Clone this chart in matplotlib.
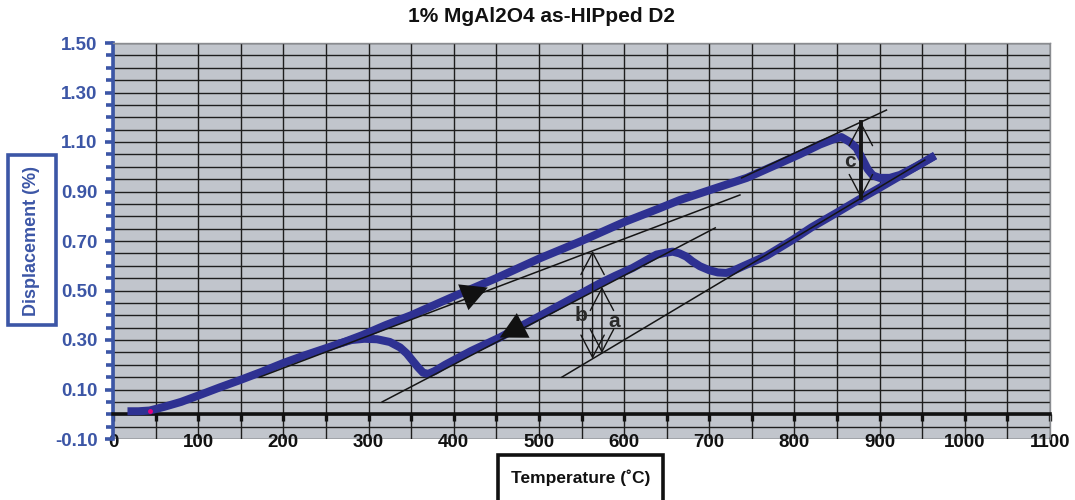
import numpy as np
import matplotlib
matplotlib.use("Agg")
import matplotlib.pyplot as plt
from matplotlib.patches import FancyArrowPatch, Rectangle
from matplotlib.ticker import MultipleLocator, FixedLocator, FormatStrFormatter

# ---------------- data ----------------
title = "1% MgAl2O4 as-HIPped D2"
x_label = "Temperature (˚C)"
y_label = "Displacement (%)"
y_ticks = [-0.10, 0.10, 0.30, 0.50, 0.70, 0.90, 1.10, 1.30, 1.50]

# heating branch
T_heat = [17, 30, 43, 60, 80, 102, 125, 149, 175, 200, 225, 251, 270, 293, 320,
          350, 396, 450, 501, 550, 599, 640, 665, 700, 744, 780, 806, 830, 845,
          855, 865, 873, 880, 886, 892, 900, 912, 924, 945, 965]
D_heat = [0.012, 0.012, 0.015, 0.03, 0.05, 0.078, 0.108, 0.138, 0.172, 0.207,
          0.238, 0.268, 0.29, 0.32, 0.36, 0.40, 0.47, 0.55, 0.63, 0.70, 0.775,
          0.83, 0.865, 0.905, 0.955, 1.01, 1.05, 1.09, 1.11, 1.12, 1.10, 1.075,
          1.03, 0.99, 0.965, 0.955, 0.955, 0.967, 1.005, 1.045]

# cooling branch
T_cool = [965, 940, 920, 900, 877, 850, 820, 798, 767, 739, 727, 720, 710, 700,
          689, 680, 673, 665, 657, 648, 638, 625, 610, 590, 572, 540, 500, 454,
          420, 390, 378, 370, 364, 358, 352, 345, 337, 325, 310, 295, 280, 265]
D_cool = [1.045, 0.995, 0.955, 0.915, 0.87, 0.815, 0.755, 0.705, 0.64, 0.597,
          0.578, 0.571, 0.573, 0.582, 0.598, 0.618, 0.637, 0.65, 0.657, 0.652,
          0.645, 0.62, 0.591, 0.56, 0.53, 0.47, 0.395, 0.31, 0.255, 0.20, 0.175,
          0.163, 0.168, 0.19, 0.215, 0.245, 0.27, 0.292, 0.303, 0.305, 0.30, 0.285]

# construction (tangent) lines
L1_T, L1_D = [172, 736], [0.150, 0.886]
L2_T, L2_D = [738, 908], [0.955, 1.229]
L3_T, L3_D = [316, 707], [0.050, 0.753]
L4_T, L4_D = [527, 953], [0.150, 1.027]

# dimension arrows (T, lower D, upper D) and labels
dim_arrows = {"b": (563, 0.224, 0.660), "a": (574, 0.247, 0.515), "c": (878, 0.873, 1.181)}
dim_labels = {"b": (550, 0.40), "a": (588, 0.375), "c": (865, 1.02)}

# direction arrowheads (from, to)
heat_arrow = ((402, 0.460), (440, 0.512))
cool_arrow = ((490, 0.374), (454, 0.310))

start_dot = (43, 0.013)

# ---------------- style ----------------
BLUE = "#3c56a6"
CURVE = "#2e3192"
plt.rcParams["font.family"] = ["Liberation Sans", "DejaVu Sans"]
plt.rcParams["font.weight"] = "bold"

fig = plt.figure(figsize=(10.75, 5), dpi=100)
ax = fig.add_axes([113 / 1075, 61 / 500, 937 / 1075, 396 / 500])
ax.set_xlim(0, 1100)
ax.set_ylim(-0.10, 1.50)
ax.set_facecolor("#c1c5cc")

ax.xaxis.set_major_locator(MultipleLocator(100))
ax.xaxis.set_minor_locator(MultipleLocator(50))
ax.yaxis.set_major_locator(FixedLocator(y_ticks))
ax.yaxis.set_minor_locator(MultipleLocator(0.05))
ax.yaxis.set_major_formatter(FormatStrFormatter("%.2f"))

ax.set_axisbelow(True)
ax.grid(which="both", color="#1e1e1e", lw=1.0)

ax.spines["left"].set_color(BLUE)
ax.spines["left"].set_linewidth(2.6)
ax.spines["bottom"].set_position(("data", 0))
ax.spines["bottom"].set_color("#111111")
ax.spines["bottom"].set_linewidth(2.6)
for s in ("top", "right"):
    ax.spines[s].set_color("#8a8c90")
    ax.spines[s].set_linewidth(1.0)

ax.tick_params(axis="y", which="both", direction="out", color=BLUE, width=2.6,
               labelcolor=BLUE, labelsize=13.5, pad=5)
ax.tick_params(axis="y", which="major", length=6)
ax.tick_params(axis="y", which="minor", length=5)
ax.tick_params(axis="x", which="both", direction="out", color="#111111", width=2.4,
               length=5, labelcolor="#111111", labelsize=13.5, pad=9.5)
for lab in ax.get_xticklabels() + ax.get_yticklabels():
    lab.set_fontweight("bold")

# curves
ax.plot(T_heat, D_heat, color=CURVE, lw=5.8, solid_capstyle="butt",
        solid_joinstyle="round", zorder=3)
ax.plot(T_cool, D_cool, color=CURVE, lw=5.8, solid_capstyle="butt",
        solid_joinstyle="round", zorder=3)
ax.plot([start_dot[0]], [start_dot[1]], "o", color="#e6007e", ms=2.5, zorder=4)

# construction lines
for tt, dd in ((L1_T, L1_D), (L2_T, L2_D), (L3_T, L3_D), (L4_T, L4_D)):
    ax.plot(tt, dd, color="#151515", lw=1.1, zorder=4)

# dimension arrows
for key, (t, d0, d1) in dim_arrows.items():
    if key == "c":
        ax.plot([t, t], [d0, d1], color="#151515", lw=2.8, zorder=5)
    arr = FancyArrowPatch((t, d0), (t, d1), arrowstyle="<->,head_length=0.8,head_width=0.42",
                          mutation_scale=20, color="#151515", lw=1.0,
                          shrinkA=0, shrinkB=0, zorder=5)
    ax.add_patch(arr)
for key, (t, d) in dim_labels.items():
    ax.text(t, d, key, fontsize=15, fontweight="bold", color="#2a2a2a",
            ha="center", va="center", zorder=6)

# direction arrowheads (filled head only, shaft invisible)
for (p0, p1) in (heat_arrow, cool_arrow):
    arr = FancyArrowPatch(p0, p1, arrowstyle="-|>,head_length=0.95,head_width=0.5",
                          mutation_scale=20, facecolor="#111111", edgecolor="#111111",
                          lw=0, shrinkA=0, shrinkB=0, zorder=6)
    ax.add_patch(arr)

# title
fig.text(541 / 1075, 1 - 17 / 500, title, ha="center", va="center",
         fontsize=15, fontweight="bold", color="#111111")

# y label in box
fig.patches.append(Rectangle((8 / 1075, 1 - 325 / 500), 48 / 1075, 170 / 500,
                             transform=fig.transFigure, fill=True, fc="white",
                             ec=BLUE, lw=2.6, zorder=1))
fig.text(32 / 1075, 1 - 241 / 500, y_label, rotation=90, ha="center", va="center",
         fontsize=13, fontweight="bold", color=BLUE, zorder=2)

# x label in box
fig.patches.append(Rectangle((498 / 1075, -0.05), 165 / 1075, 45 / 500 + 0.05,
                             transform=fig.transFigure, fill=True, fc="white",
                             ec="#111111", lw=2.6, zorder=1))
fig.text(581 / 1075, 1 - 478 / 500, x_label, ha="center", va="center",
         fontsize=12.5, fontweight="bold", color="#111111", zorder=2)

fig.savefig("out.png", dpi=100, facecolor="white")
